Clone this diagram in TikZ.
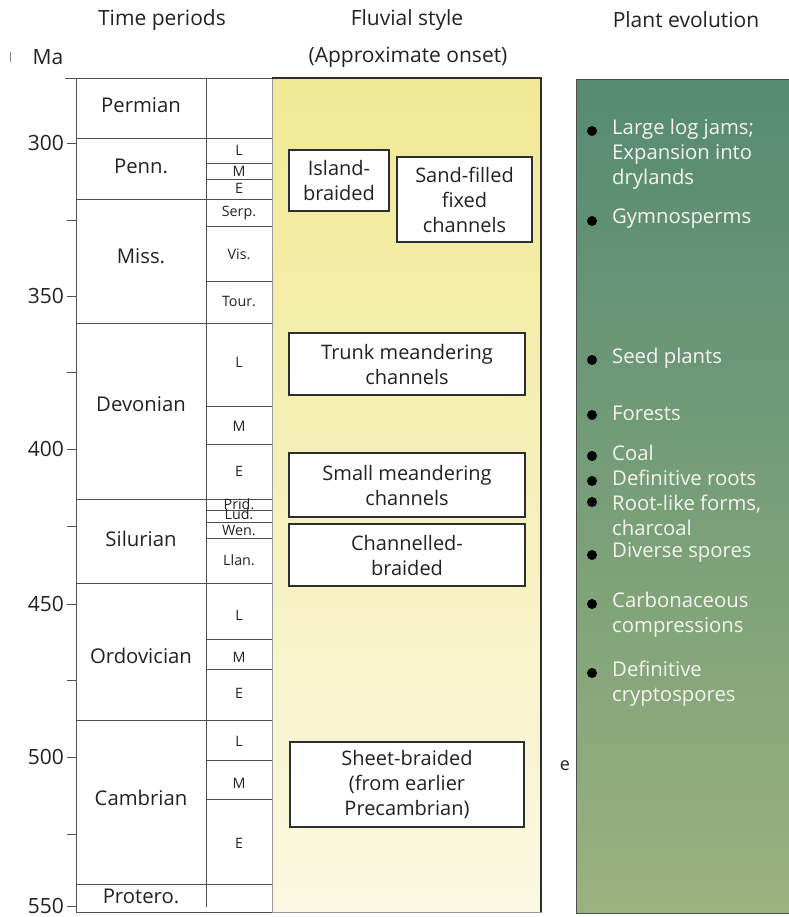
\documentclass[tikz,border=0pt]{standalone}
\usepackage{fontspec}
\setmainfont{Open Sans}
\begin{document}
\begin{tikzpicture}[x=1pt,y=-1pt]
\definecolor{txt}{HTML}{222222}
\definecolor{grid}{HTML}{505050}
\definecolor{boxline}{HTML}{2E2E2E}
\definecolor{yeltop}{HTML}{F0E994}
\definecolor{yelbot}{HTML}{FBF8E2}
\definecolor{grtop}{HTML}{558A73}
\definecolor{grmid}{HTML}{7BA07B}
\definecolor{grbot}{HTML}{9AB27E}
\definecolor{gtxt}{HTML}{F5F5EE}
\tikzset{
  hdr/.style={font=\fontsize{21}{24}\selectfont, text=txt, inner sep=0},
  axlab/.style={font=\fontsize{21}{24}\selectfont, text=txt, inner sep=0, anchor=east},
  per/.style={font=\fontsize{20.3}{23}\selectfont, text=txt, inner sep=0},
  sublab/.style={font=\fontsize{14.3}{15}\selectfont, text=txt, inner sep=0},
  fbox/.style={draw=boxline, line width=1.1pt, fill=white, font=\fontsize{20}{25}\selectfont, align=center, text=txt, inner sep=0},
  gitem/.style={font=\fontsize{20.3}{25}\selectfont, text=gtxt, align=left, anchor=west, inner sep=0},
  bul/.style={circle, fill=black, inner sep=0, minimum size=10pt},
  gline/.style={draw=grid, line width=0.8pt},
}
\useasboundingbox (0,0) rectangle (788,917);

% columns
\shade[top color=yeltop, bottom color=yelbot] (272,78) rectangle (541,912);
\draw[draw=gray!80, line width=0.8pt] (272,78) rectangle (541,912);
\draw[draw=boxline, line width=1.2pt] (272,78) -- (541,78) -- (541,912);
\shade[top color=grtop, middle color=grmid, bottom color=grbot] (576,80) rectangle (792,913);
\draw[draw=black!70, line width=1pt] (792,80) -- (576,80) -- (576,913) -- (792,913);

% headers
\node[hdr] (h1) at (162,20) {Time periods};
\node[hdr] (h2) at (407,20) {Fluvial style};
\node[hdr] (h3) at (686,20) {Plant evolution};
\node[hdr] (h4) at (408,57) {(Approximate onset)};
\node[axlab, anchor=center] (ma) at (48,57) {Ma};
\draw[gray, line width=1pt] (10,52) -- (10,62);

% table frame
\draw[gline] (65,78) -- (272,78);
\draw[gline] (76,78) -- (76,912) -- (272,912);
\draw[gline] (206,78) -- (206,907);
\foreach \yy in {138,199,323,499,583,720,884} \draw[gline] (76,\yy) -- (272,\yy);
\foreach \yy in {163,179,226,281,406,444,510,522,538,639,669,760,799} \draw[gline] (206,\yy) -- (272,\yy);

% axis ticks
\foreach \yy/\lab in {143/300,296/350,449/400,604/450,757/500,906/550}{
  \draw[gline] (67,\yy) -- (76,\yy);
  \node[axlab] (t\lab) at (64,\yy) {\lab};
}
\foreach \yy in {220,372,526,680,834} \draw[gline] (67,\yy) -- (76,\yy);

% periods
\node[per] (perm) at (141,105) {Permian};
\node[per] (penn) at (141,166) {Penn.};
\node[per] (miss) at (141,256) {Miss.};
\node[per] (dev) at (141,404) {Devonian};
\node[per] (sil) at (141,539) {Silurian};
\node[per] (ord) at (141,656) {Ordovician};
\node[per] (cam) at (141,798) {Cambrian};
\node[per] (pro) at (141,896) {Protero.};

% sub-periods
\node[sublab] (s1) at (239,150) {L};
\node[sublab] (s2) at (239,171) {M};
\node[sublab] (s3) at (239,188) {E};
\node[sublab] (s4) at (239,213) {Serp.};
\node[sublab] (s5) at (239,254) {Vis.};
\node[sublab] (s6) at (239,301) {Tour.};
\node[sublab] (s7) at (239,362) {L};
\node[sublab] (s8) at (239,426) {M};
\node[sublab] (s9) at (239,471) {E};
\node[sublab] (s10) at (239,504) {Prid.};
\node[sublab] (s11) at (239,514) {Lud.};
\node[sublab] (s12) at (239,530) {Wen.};
\node[sublab] (s13) at (239,560) {Llan.};
\node[sublab] (s14) at (239,615) {L};
\node[sublab] (s15) at (239,657) {M};
\node[sublab] (s16) at (239,693) {E};
\node[sublab] (s17) at (239,741) {L};
\node[sublab] (s18) at (239,783) {M};
\node[sublab] (s19) at (239,843) {E};

% fluvial boxes
\node[fbox, minimum width=100pt, minimum height=61pt] (island) at (339,180.5) {Island-\\braided};
\node[fbox, minimum width=135pt, minimum height=85pt] (sand) at (464.5,199.5) {Sand-filled\\fixed\\channels};
\node[fbox, minimum width=236pt, minimum height=62pt] (trunk) at (407,364) {Trunk meandering\\channels};
\node[fbox, minimum width=236pt, minimum height=64pt] (small) at (407,485) {Small meandering\\channels};
\node[fbox, minimum width=236pt, minimum height=62pt] (chan) at (407,555) {Channelled-\\braided};
\node[fbox, minimum width=234pt, minimum height=85pt] (sheet) at (407,784.5) {Sheet-braided\\(from earlier\\Precambrian)};

% plant evolution
\node[gitem] (p1) at (612,154.5) {Large log jams;\\Expansion into\\drylands};
\node[gitem] (p2) at (612,219) {Gymnosperms};
\node[gitem] (p3) at (612,358) {Seed plants};
\node[gitem] (p4) at (612,413) {Forests};
\node[gitem] (p5) at (612,453) {Coal};
\node[gitem] (p6) at (612,478) {Definitive roots};
\node[gitem] (p7) at (612,515) {Root-like forms,\\charcoal};
\node[gitem] (p8) at (612,552) {Diverse spores};
\node[gitem] (p9) at (612,614.5) {Carbonaceous\\compressions};
\node[gitem] (p10) at (612,683.5) {Definitive\\cryptospores};
\foreach \yy [count=\i] in {131,221,360,415,456,481,502,555,604,673}
  \node[bul] (b\i) at (592,\yy) {};

\node[font=\fontsize{18}{20}\selectfont, text=txt, inner sep=0] (e) at (565,766) {e};
\end{tikzpicture}
\end{document}
